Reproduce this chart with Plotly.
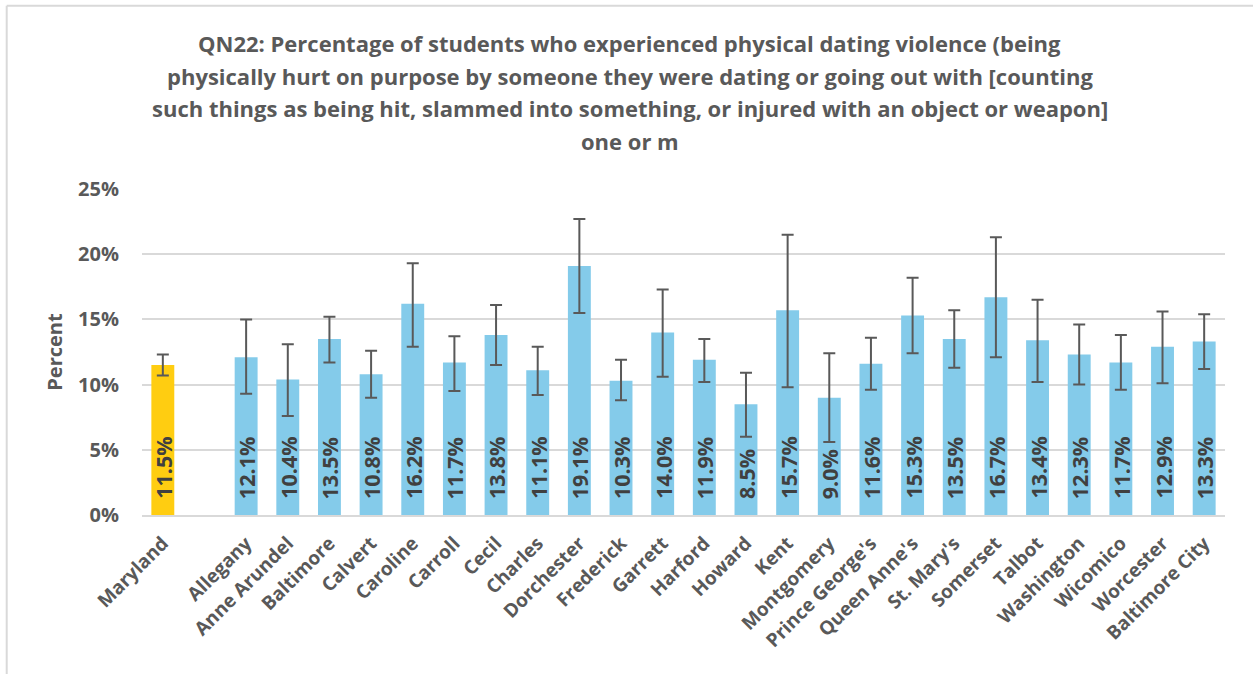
import plotly.graph_objects as go

categories = ["Maryland", " ", "Allegany", "Anne Arundel", "Baltimore", "Calvert", "Caroline",
              "Carroll", "Cecil", "Charles", "Dorchester", "Frederick", "Garrett", "Harford",
              "Howard", "Kent", "Montgomery", "Prince George's", "Queen Anne's", "St. Mary's",
              "Somerset", "Talbot", "Washington", "Wicomico", "Worcester", "Baltimore City"]
values = [11.5, None, 12.1, 10.4, 13.5, 10.8, 16.2, 11.7, 13.8, 11.1, 19.1, 10.3, 14.0, 11.9,
          8.5, 15.7, 9.0, 11.6, 15.3, 13.5, 16.7, 13.4, 12.3, 11.7, 12.9, 13.3]
ci_upper = [12.3, None, 15.0, 13.1, 15.2, 12.6, 19.3, 13.7, 16.1, 12.9, 22.7, 11.9, 17.3, 13.5,
            10.9, 21.5, 12.4, 13.6, 18.2, 15.7, 21.3, 16.5, 14.6, 13.8, 15.6, 15.4]
ci_lower = [10.7, None, 9.3, 7.6, 11.7, 9.0, 12.9, 9.5, 11.5, 9.2, 15.5, 8.8, 10.6, 10.2,
            6.0, 9.8, 5.6, 9.6, 12.4, 11.3, 12.1, 10.2, 10.0, 9.6, 10.1, 11.2]
state_color = "#FFCD11"
county_color = "#84CBEA"
title_lines = ["QN22: Percentage of students who experienced physical dating violence (being",
               "physically hurt on purpose by someone they were dating or going out with [counting",
               "such things as being hit, slammed into something, or injured with an object or weapon]",
               "one or m"]

FONT = "Open Sans"
GRAY = "#595959"
W, H = 1253, 674
L, R, T, B = 142, 28, 189, 159
PW, PH = W - L - R, H - T - B


def px_x(x):
    return (x - L) / PW


def px_y(y):
    return 1 - (y - T) / PH


colors = [state_color if i == 0 else county_color for i in range(len(categories))]
err_plus = [None if v is None else round(u - v, 2) for v, u in zip(values, ci_upper)]
err_minus = [None if v is None else round(v - l, 2) for v, l in zip(values, ci_lower)]

fig = go.Figure()
fig.add_trace(go.Bar(
    x=categories, y=values,
    marker=dict(color=colors, line=dict(width=0)),
    width=0.55,
    error_y=dict(type="data", symmetric=False, array=err_plus, arrayminus=err_minus,
                 color="#595959", thickness=2, width=6),
    hoverinfo="x+y",
))

annotations = []
for c, v in zip(categories, values):
    if v is None:
        continue
    annotations.append(dict(
        x=c, y=0, xref="x", yref="y", text=f"{v:.1f}%", showarrow=False,
        textangle=-90, yanchor="bottom", xanchor="center", yshift=14,
        font=dict(family=FONT, size=21.5, color="#404040", weight="bold"),
    ))

title_y = [43, 75.5, 108, 140.5]
for line, yp in zip(title_lines, title_y):
    annotations.append(dict(
        x=px_x(629.5), y=px_y(yp), xref="paper", yref="paper", text=line, showarrow=False,
        xanchor="center", yanchor="middle",
        font=dict(family=FONT, size=22, color=GRAY, weight="bold"),
    ))

fig.update_layout(
    width=W, height=H,
    margin=dict(l=L, r=R, t=T, b=B, autoexpand=False),
    paper_bgcolor="white", plot_bgcolor="white",
    showlegend=False,
    annotations=annotations,
    shapes=[
        dict(type="line", xref="paper", yref="paper", x0=px_x(6.7), x1=px_x(1260),
             y0=px_y(5.7), y1=px_y(5.7), line=dict(color="#d9d9d9", width=2)),
        dict(type="line", xref="paper", yref="paper", x0=px_x(6.7), x1=px_x(6.7),
             y0=px_y(680), y1=px_y(5.7), line=dict(color="#d9d9d9", width=2)),
    ],
)
fig.update_yaxes(range=[0, 25], dtick=5, ticksuffix="%", showgrid=True, gridcolor="#d9d9d9",
                 gridwidth=1.5, zeroline=False, showline=False, automargin=False,
                 ticklabelstandoff=22,
                 tickfont=dict(family=FONT, size=20, color=GRAY, weight="bold"),
                 title=dict(text="Percent", standoff=10,
                            font=dict(family=FONT, size=20, color=GRAY, weight="bold")))
fig.update_xaxes(tickangle=-45, showline=True, linecolor="#d9d9d9", linewidth=1.5,
                 automargin=False, ticklabelstandoff=8,
                 tickfont=dict(family=FONT, size=19, color=GRAY, weight="bold"))

fig.write_html("out.html", config={"displayModeBar": False},
               post_script="document.body.style.margin='0';document.body.style.overflow='hidden';")
